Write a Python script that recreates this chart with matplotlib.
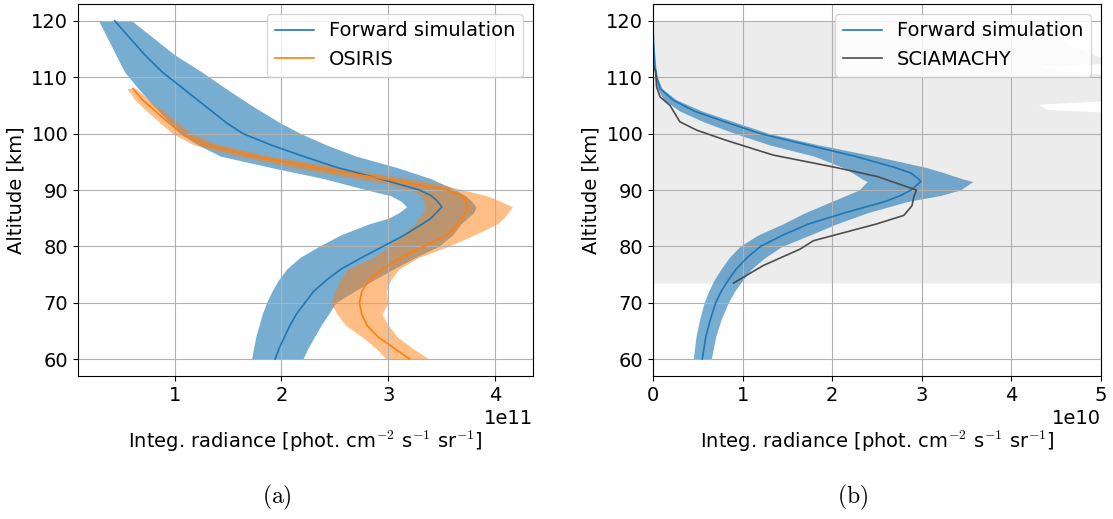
import matplotlib
matplotlib.use("Agg")
import matplotlib.pyplot as plt
import numpy as np

plt.rcParams['mathtext.fontset'] = 'cm'

# ---- panel (a): forward simulation vs OSIRIS (units of 1e11) ----
alt_fwd_a = [120, 117, 114, 111, 108, 105, 102, 100, 98, 96, 94, 92, 90, 89, 88, 87, 86, 85,
             84, 82, 80, 78, 76, 74, 72, 70, 68, 66, 64, 62, 60]
fwd_a = [0.44, 0.58, 0.72, 0.88, 1.08, 1.28, 1.48, 1.64, 1.90, 2.20, 2.52, 2.92, 3.29, 3.40,
         3.46, 3.50, 3.45, 3.40, 3.32, 3.15, 2.95, 2.75, 2.56, 2.42, 2.30, 2.22, 2.14, 2.08,
         2.03, 1.98, 1.94]
fwd_a_lo = [0.29, 0.37, 0.45, 0.53, 0.66, 0.80, 0.95, 1.05, 1.22, 1.43, 1.90, 2.40, 2.80, 3.02,
            3.12, 3.17, 3.10, 3.00, 2.82, 2.55, 2.35, 2.17, 2.05, 1.97, 1.91, 1.86, 1.82, 1.79,
            1.76, 1.74, 1.72]
fwd_a_hi = [0.60, 0.80, 1.00, 1.25, 1.48, 1.72, 1.98, 2.18, 2.42, 2.70, 3.08, 3.40, 3.63, 3.72,
            3.78, 3.82, 3.80, 3.74, 3.68, 3.60, 3.47, 3.25, 3.05, 2.86, 2.68, 2.51, 2.44, 2.37,
            2.31, 2.25, 2.20]

alt_osiris = [108, 106, 104, 102, 100, 98, 96, 94, 92, 91, 90, 89, 88, 87, 86, 85, 84, 82, 80,
              78, 76, 74, 72, 70, 68, 66, 64, 62, 60]
osiris = [0.61, 0.70, 0.82, 0.94, 1.07, 1.30, 1.75, 2.30, 2.95, 3.26, 3.55, 3.68, 3.73, 3.74,
          3.72, 3.69, 3.65, 3.55, 3.33, 3.12, 2.94, 2.82, 2.75, 2.73, 2.75, 2.80, 2.90, 3.05, 3.20]
osiris_lo = [0.555, 0.63, 0.74, 0.86, 0.98, 1.18, 1.60, 2.10, 2.70, 3.00, 3.20, 3.30, 3.33, 3.34,
             3.33, 3.28, 3.25, 3.12, 3.00, 2.86, 2.62, 2.55, 2.50, 2.46, 2.52, 2.60, 2.75, 2.88, 2.98]
osiris_hi = [0.64, 0.76, 0.90, 1.03, 1.16, 1.42, 1.90, 2.55, 3.20, 3.50, 3.70, 3.92, 4.05, 4.16,
             4.12, 4.08, 4.02, 3.80, 3.56, 3.28, 3.10, 3.02, 2.98, 3.00, 2.94, 3.00, 3.08, 3.22, 3.38]

# ---- panel (b): forward simulation vs SCIAMACHY (units of 1e10) ----
alt_fwd_b = [120, 116, 112, 110, 108, 106, 104, 102, 100, 98, 96, 94, 93, 92, 91.5, 90, 89, 88,
             86, 84, 82, 80, 78, 76, 74, 72, 70, 67, 64, 60]
fwd_b = [0.0, 0.005, 0.02, 0.04, 0.08, 0.22, 0.46, 0.82, 1.20, 1.72, 2.25, 2.70, 2.88, 2.96,
         2.99, 2.88, 2.76, 2.60, 2.15, 1.74, 1.45, 1.20, 1.05, 0.93, 0.84, 0.76, 0.70, 0.64,
         0.59, 0.55]
fwd_b_lo = [0.0, 0.0, 0.01, 0.02, 0.05, 0.12, 0.30, 0.58, 0.92, 1.30, 1.80, 2.12, 2.23, 2.33,
            2.39, 2.30, 2.15, 2.00, 1.70, 1.45, 1.17, 0.97, 0.85, 0.76, 0.68, 0.62, 0.57, 0.52,
            0.48, 0.45]
fwd_b_hi = [0.0, 0.01, 0.03, 0.05, 0.10, 0.26, 0.55, 0.92, 1.30, 1.85, 2.48, 3.05, 3.26, 3.45,
            3.57, 3.43, 3.20, 2.85, 2.40, 2.05, 1.75, 1.44, 1.25, 1.10, 1.00, 0.91, 0.84, 0.76,
            0.70, 0.65]

alt_scia = [120, 112, 111, 108.3, 106.5, 105, 102.1, 100.6, 98.8, 96.2, 94.1, 92.4, 90, 88.7,
            87.2, 85.5, 84, 81, 79.5, 76.6, 73.5]
scia = [0.0, 0.0, 0.03, 0.04, 0.08, 0.19, 0.30, 0.49, 0.82, 1.34, 2.01, 2.50, 2.94, 2.91, 2.89,
        2.80, 2.50, 1.79, 1.64, 1.23, 0.90]
alt_scia_err = [120, 116, 113.5, 112.8, 112, 111, 110, 108, 106, 105.2, 104.3, 103.4, 100, 90,
                80, 73.5]
scia_err_lo = [-1.0] * len(alt_scia_err)
scia_err_hi = [4.4, 4.6, 5.0, 5.6, 4.3, 4.6, 5.6, 5.6, 5.2, 4.3, 4.4, 5.6, 6.0, 6.0, 6.0, 6.0]

blue = '#1f77b4'
orange = '#ff7f0e'
fs = 14
xlab = r'Integ. radiance [phot. cm$^{-2}$ s$^{-1}$ sr$^{-1}$]'

fig = plt.figure(figsize=(11.13, 5.19), dpi=100)
ax1 = fig.add_axes([0.0701, 0.2755, 0.4088, 0.7168])
ax2 = fig.add_axes([0.5867, 0.2755, 0.4025, 0.7168])

s = 1e11
ax1.fill_betweenx(alt_fwd_a, np.array(fwd_a_lo) * s, np.array(fwd_a_hi) * s,
                  color=blue, alpha=0.6, lw=0)
ax1.plot(np.array(fwd_a) * s, alt_fwd_a, color=blue, lw=1.2, label='Forward simulation')
ax1.fill_betweenx(alt_osiris, np.array(osiris_lo) * s, np.array(osiris_hi) * s,
                  color=orange, alpha=0.5, lw=0)
ax1.plot(np.array(osiris) * s, alt_osiris, color=orange, lw=1.2, label='OSIRIS')

s = 1e10
ax2.fill_betweenx(alt_scia_err, np.array(scia_err_lo) * s, np.array(scia_err_hi) * s,
                  color='gray', alpha=0.15, lw=0)
ax2.fill_betweenx(alt_fwd_b, np.array(fwd_b_lo) * s, np.array(fwd_b_hi) * s,
                  color=blue, alpha=0.6, lw=0)
ax2.plot(np.array(fwd_b) * s, alt_fwd_b, color=blue, lw=1.2, label='Forward simulation')
ax2.plot(np.array(scia) * s, alt_scia, color='0.3', lw=1.2, label='SCIAMACHY')
ax2.set_xlim(0, 5e10)
ax2.set_ylim(ax1.get_ylim())

for ax in (ax1, ax2):
    ax.grid(True)
    ax.set_ylabel('Altitude [km]', fontsize=fs)
    ax.set_xlabel(xlab, fontsize=fs, labelpad=17)
    ax.tick_params(labelsize=fs)
    ax.xaxis.get_offset_text().set_fontsize(fs)
    ax.legend(loc='upper right', fontsize=fs)

fig.text(0.249, 0.03, r'$\mathrm{(a)}$', ha='center', fontsize=17)
fig.text(0.766, 0.03, r'$\mathrm{(b)}$', ha='center', fontsize=17)

fig.savefig('out.png', dpi=100)
